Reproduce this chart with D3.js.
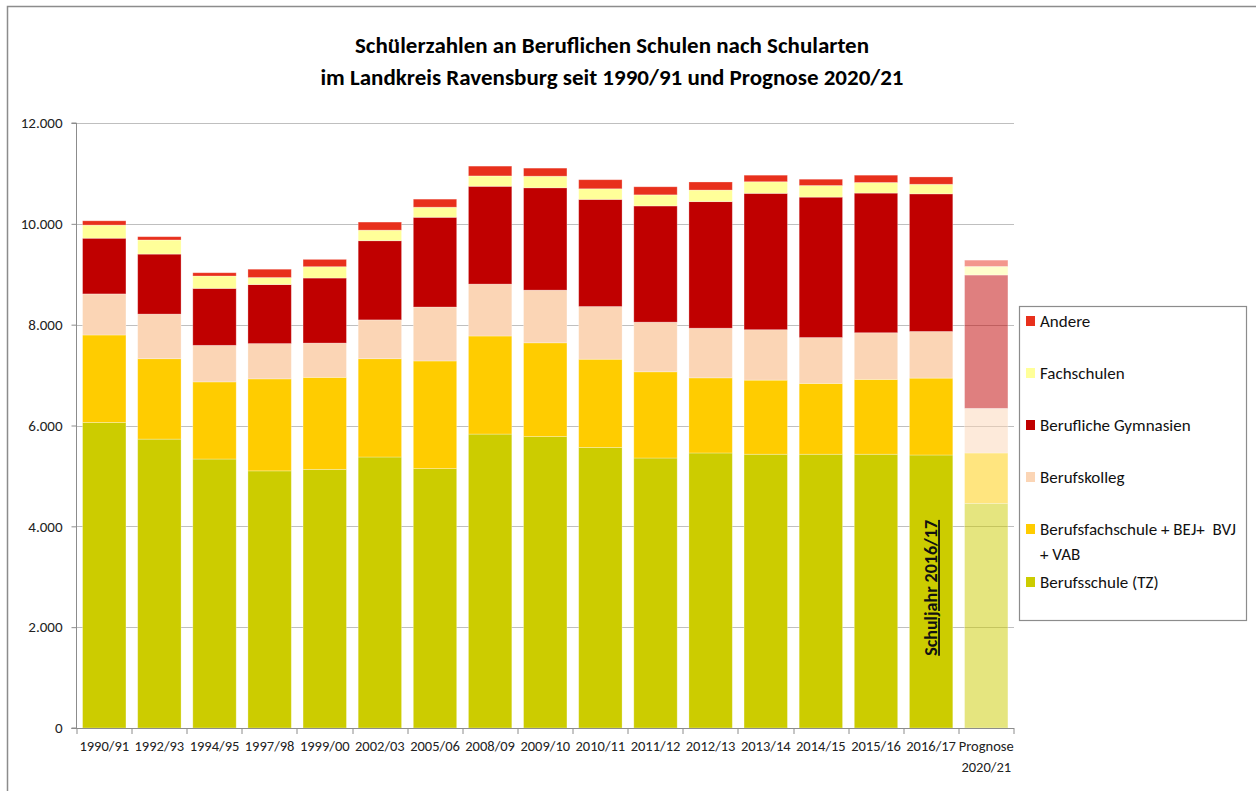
<!DOCTYPE html>
<html>
<head>
<meta charset="utf-8">
<script src="https://cdn.jsdelivr.net/npm/d3@7"></script>
<style>
  body { margin: 0; background: #fff; }
  svg { display: block; font-family: Carlito, Lato, "Open Sans", sans-serif; }
</style>
</head>
<body>
<div id="chart"></div>
<script>
// Schuljahre (x-Achse)
const years = ["1990/91", "1992/93", "1994/95", "1997/98", "1999/00", "2002/03", "2005/06",
    "2008/09", "2009/10", "2010/11", "2011/12", "2012/13", "2013/14", "2014/15", "2015/16",
    "2016/17", "Prognose 2020/21"];

// Schülerzahlen je Schulart, von unten nach oben gestapelt
const berufsschule   = [6060, 5730, 5335, 5100, 5130, 5375, 5145, 5830, 5780, 5565, 5355, 5455, 5430, 5430, 5430, 5415, 4455];
const berufsfach     = [1735, 1595, 1530, 1825, 1825, 1950, 2135, 1945, 1860, 1750, 1710, 1490, 1470, 1405, 1485, 1525, 1000];
const berufskolleg   = [815, 885, 725, 700, 680, 770, 1070, 1030, 1045, 1045, 985, 985, 1000, 910, 925, 925, 885];
const gymnasien      = [1105, 1190, 1130, 1170, 1290, 1570, 1780, 1940, 2030, 2125, 2305, 2510, 2705, 2785, 2770, 2730, 2645];
const fachschulen    = [260, 280, 245, 140, 225, 210, 200, 205, 230, 210, 220, 230, 230, 230, 210, 190, 170];
const andere         = [85, 65, 65, 165, 145, 160, 160, 195, 160, 180, 160, 160, 130, 125, 145, 145, 125];

const seriesNames = ["Berufsschule (TZ)", "Berufsfachschule + BEJ+  BVJ + VAB", "Berufskolleg",
    "Berufliche Gymnasien", "Fachschulen", "Andere"];
const seriesValues = [berufsschule, berufsfach, berufskolleg, gymnasien, fachschulen, andere];
const colors = ["#cccc00", "#ffcc00", "#fbd5b5", "#c00000", "#ffff99", "#e8301c"];

const yTicks = [0, 2000, 4000, 6000, 8000, 10000, 12000];

const margin = { top: 123, right: 242, bottom: 63, left: 76.5 };
const totalW = 1256, totalH = 791;
const width = totalW - margin.left - margin.right;
const height = totalH - margin.top - margin.bottom;

const table = years.map((y, i) => {
    const row = { year: y };
    seriesNames.forEach((s, k) => row[s] = seriesValues[k][i]);
    return row;
});
const stacked = d3.stack().keys(seriesNames)(table);

const svg = d3.select("#chart")
    .append("svg")
    .attr("width", totalW)
    .attr("height", totalH);

// Rahmen
svg.append("rect")
    .attr("x", 7.5).attr("y", 6.5)
    .attr("width", totalW + 20).attr("height", totalH + 20)
    .attr("fill", "none")
    .attr("stroke", "#8c8c8c")
    .attr("stroke-width", 1.5);

// Titel
svg.append("text")
    .attr("x", 612).attr("y", 53)
    .attr("text-anchor", "middle")
    .attr("font-size", 23).attr("font-weight", "bold")
    .text("Schülerzahlen an Beruflichen Schulen nach Schularten");
svg.append("text")
    .attr("x", 612).attr("y", 85)
    .attr("text-anchor", "middle")
    .attr("font-size", 23).attr("font-weight", "bold")
    .text("im Landkreis Ravensburg seit 1990/91 und Prognose 2020/21");

const g = svg.append("g")
    .attr("transform", `translate(${margin.left}, ${margin.top})`);

const xScale = d3.scaleBand()
    .domain(years)
    .range([0, width])
    .paddingInner(0.213)
    .paddingOuter(0.11);

const yScale = d3.scaleLinear()
    .domain([0, 12000])
    .range([height, 0]);

// Gitterlinien
g.append("g")
    .selectAll("line")
    .data(yTicks.filter(d => d > 0))
    .enter()
    .append("line")
    .attr("x1", 0).attr("x2", width)
    .attr("y1", d => Math.round(yScale(d)) + 0.5)
    .attr("y2", d => Math.round(yScale(d)) + 0.5)
    .attr("stroke", "#bfbfbf")
    .attr("stroke-width", 1.2);

// Balken
const layers = g.selectAll("g.layer")
    .data(stacked)
    .enter()
    .append("g")
    .attr("class", "layer")
    .attr("fill", (d, i) => colors[i]);

layers.selectAll("rect")
    .data(d => d)
    .enter()
    .append("rect")
    .attr("x", d => xScale(d.data.year))
    .attr("y", d => yScale(d[1]))
    .attr("width", xScale.bandwidth())
    .attr("height", d => yScale(d[0]) - yScale(d[1]))
    .attr("fill-opacity", d => d.data.year.startsWith("Prognose") ? 0.5 : 1)
    .attr("stroke", "#ffffff")
    .attr("stroke-opacity", 0.35)
    .attr("stroke-width", 0.8);

// y-Achse
const yAxis = g.append("g")
    .call(d3.axisLeft(yScale)
        .tickValues(yTicks)
        .tickSize(5)
        .tickPadding(9)
        .tickFormat(d => d === 0 ? "0" : d3.format(",")(d).replace(/,/g, ".")));
yAxis.selectAll("line").attr("stroke", "#8c8c8c");
yAxis.select(".domain").attr("stroke", "#8c8c8c").attr("d", `M-5,0H0V${height}H-5`);
yAxis.selectAll("text").attr("font-size", 15).attr("fill", "#222")
    .attr("font-family", "Carlito, Lato, sans-serif");

// x-Achse
const xAxis = g.append("g")
    .attr("transform", `translate(0, ${height})`);
xAxis.append("line")
    .attr("x1", -5).attr("x2", width)
    .attr("y1", 0.5).attr("y2", 0.5)
    .attr("stroke", "#8c8c8c");
const step = xScale.step();
xAxis.selectAll("line.tick")
    .data(d3.range(years.length + 1))
    .enter()
    .append("line")
    .attr("class", "tick")
    .attr("x1", i => Math.round(i * step) + 0.5)
    .attr("x2", i => Math.round(i * step) + 0.5)
    .attr("y1", 0).attr("y2", 6)
    .attr("stroke", "#8c8c8c");
const xLabels = xAxis.selectAll("text")
    .data(years)
    .enter()
    .append("text")
    .attr("x", d => xScale(d) + xScale.bandwidth() / 2)
    .attr("y", 23)
    .attr("text-anchor", "middle")
    .attr("font-size", 14.5)
    .attr("fill", "#222");
xLabels.each(function (d) {
    const parts = d.split(" ");
    d3.select(this).selectAll("tspan")
        .data(parts)
        .enter()
        .append("tspan")
        .attr("x", xScale(d) + xScale.bandwidth() / 2)
        .attr("dy", (p, i) => i === 0 ? 0 : 21)
        .text(p => p);
});

// Markierung Schuljahr 2016/17
const cx = xScale("2016/17") + xScale.bandwidth() / 2;
g.append("text")
    .attr("transform", `translate(${cx + 6}, ${yScale(2780)}) rotate(-90)`)
    .attr("text-anchor", "middle")
    .attr("font-size", 18)
    .attr("font-weight", "bold")
    .attr("text-decoration", "underline")
    .attr("fill", "#111")
    .text("Schuljahr 2016/17");

// Legende
const legend = svg.append("g")
    .attr("transform", "translate(1019, 306)");
legend.append("rect")
    .attr("x", 0.5).attr("y", 0.5)
    .attr("width", 227).attr("height", 314)
    .attr("fill", "#fff")
    .attr("stroke", "#8c8c8c")
    .attr("stroke-width", 1.2);

const legendOrder = [5, 4, 3, 2, 1, 0];
const legendY = [15, 67, 119, 171, 223, 276];
const legendItems = legend.selectAll("g.item")
    .data(legendOrder)
    .enter()
    .append("g")
    .attr("class", "item")
    .attr("transform", (k, i) => `translate(0, ${legendY[i]})`);
legendItems.append("rect")
    .attr("x", 7).attr("y", -5)
    .attr("width", 9).attr("height", 10)
    .attr("fill", k => colors[k]);
legendItems.append("text")
    .attr("x", 21).attr("y", 6)
    .attr("font-size", 17)
    .attr("fill", "#111")
    .each(function (k) {
        const name = seriesNames[k];
        const lines = name === "Berufsfachschule + BEJ+  BVJ + VAB"
            ? ["Berufsfachschule + BEJ+\u00a0\u00a0BVJ", "+ VAB"] : [name];
        d3.select(this).selectAll("tspan")
            .data(lines)
            .enter()
            .append("tspan")
            .attr("x", 21)
            .attr("dy", (l, i) => i === 0 ? 0 : 25)
            .text(l => l);
    });
</script>
</body>
</html>
